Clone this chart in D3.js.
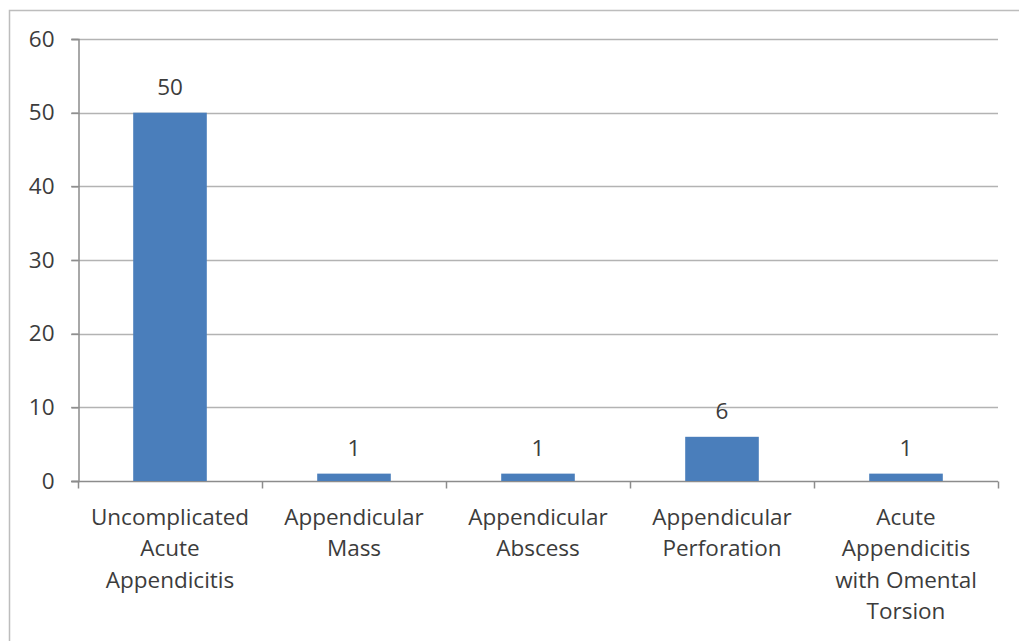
<!DOCTYPE html>
<html>
<head>
<meta charset="utf-8">
<script src="https://cdn.jsdelivr.net/npm/d3@7"></script>
<style>
  html, body { margin: 0; padding: 0; background: #fff; }
  svg text { font-family: "Open Sans", Lato, sans-serif; fill: #3c3c3c; }
</style>
</head>
<body>
<svg id="chart" width="1019" height="641"></svg>
<script>
// Appendicitis presentation counts
const categories = [
  ["Uncomplicated", "Acute", "Appendicitis"],
  ["Appendicular", "Mass"],
  ["Appendicular", "Abscess"],
  ["Appendicular", "Perforation"],
  ["Acute", "Appendicitis", "with Omental", "Torsion"]
];
const values = [50, 1, 1, 6, 1];
const yTicks = [0, 10, 20, 30, 40, 50, 60];

const svg = d3.select("#chart");
const margin = { left: 78, right: 1019 - 998, top: 39, bottom: 641 - 481 };
const W = 1019, H = 641;
const FONT = "'Open Sans', Lato, sans-serif";
const FS = 22.5;

// chart frame
svg.append("path")
  .attr("d", `M9.5,${H} V10.5 H${W}`)
  .attr("fill", "none").attr("stroke", "#bdbdbd").attr("stroke-width", 1.5);

const keys = categories.map((c, i) => i);
const x = d3.scaleBand().domain(keys)
  .range([margin.left, W - margin.right])
  .paddingInner(0.6).paddingOuter(0.3);
const y = d3.scaleLinear().domain([0, 60]).range([H - margin.bottom, margin.top]);

// horizontal gridlines
svg.append("g").selectAll("line").data(yTicks.filter(d => d > 0)).join("line")
  .attr("x1", margin.left - 7).attr("x2", W - margin.right)
  .attr("y1", d => Math.round(y(d)) + 0.5).attr("y2", d => Math.round(y(d)) + 0.5)
  .attr("stroke", "#b3b3b3").attr("stroke-width", 1.5);

// y axis
const yAxis = svg.append("g").attr("transform", `translate(${margin.left + 0.5},0)`)
  .call(d3.axisLeft(y).tickValues(yTicks).tickSize(7).tickPadding(17).tickFormat(d3.format("d")));
yAxis.select(".domain").attr("stroke", "#8c8c8c").attr("stroke-width", 1.5);
yAxis.selectAll(".tick line").attr("stroke", "#8c8c8c").attr("stroke-width", 1.5);
yAxis.selectAll(".tick text").attr("font-size", FS).style("fill", "#3c3c3c")
  .style("font-family", FONT);

// x axis baseline with boundary ticks
const step = x.step();
const boundaries = d3.range(categories.length + 1).map(i => margin.left + i * step);
const base = Math.round(y(0)) + 0.5;
svg.append("line").attr("x1", margin.left - 7).attr("x2", W - margin.right)
  .attr("y1", base).attr("y2", base).attr("stroke", "#8c8c8c").attr("stroke-width", 1.5);
svg.append("g").selectAll("line").data(boundaries).join("line")
  .attr("x1", d => Math.round(d) + 0.5).attr("x2", d => Math.round(d) + 0.5)
  .attr("y1", base).attr("y2", base + 7)
  .attr("stroke", "#8c8c8c").attr("stroke-width", 1.5);

// bars
svg.append("g").selectAll("rect").data(values).join("rect")
  .attr("x", (d, i) => x(i)).attr("width", x.bandwidth())
  .attr("y", d => y(d)).attr("height", d => y(0) - y(d))
  .attr("fill", "#4a7ebb");

// value labels
svg.append("g").selectAll("text").data(values).join("text")
  .attr("x", (d, i) => x(i) + x.bandwidth() / 2)
  .attr("y", d => y(d) - 18)
  .attr("text-anchor", "middle").attr("font-size", FS)
  .text(d => d);

// category labels
const cat = svg.append("g").selectAll("text").data(categories).join("text")
  .attr("text-anchor", "middle").attr("font-size", FS)
  .attr("transform", (d, i) => `translate(${x(i) + x.bandwidth() / 2},${base + 43})`);
cat.selectAll("tspan").data(d => d).join("tspan")
  .attr("x", 0).attr("y", (d, j) => j * 31.5)
  .text(d => d);
</script>
</body>
</html>
